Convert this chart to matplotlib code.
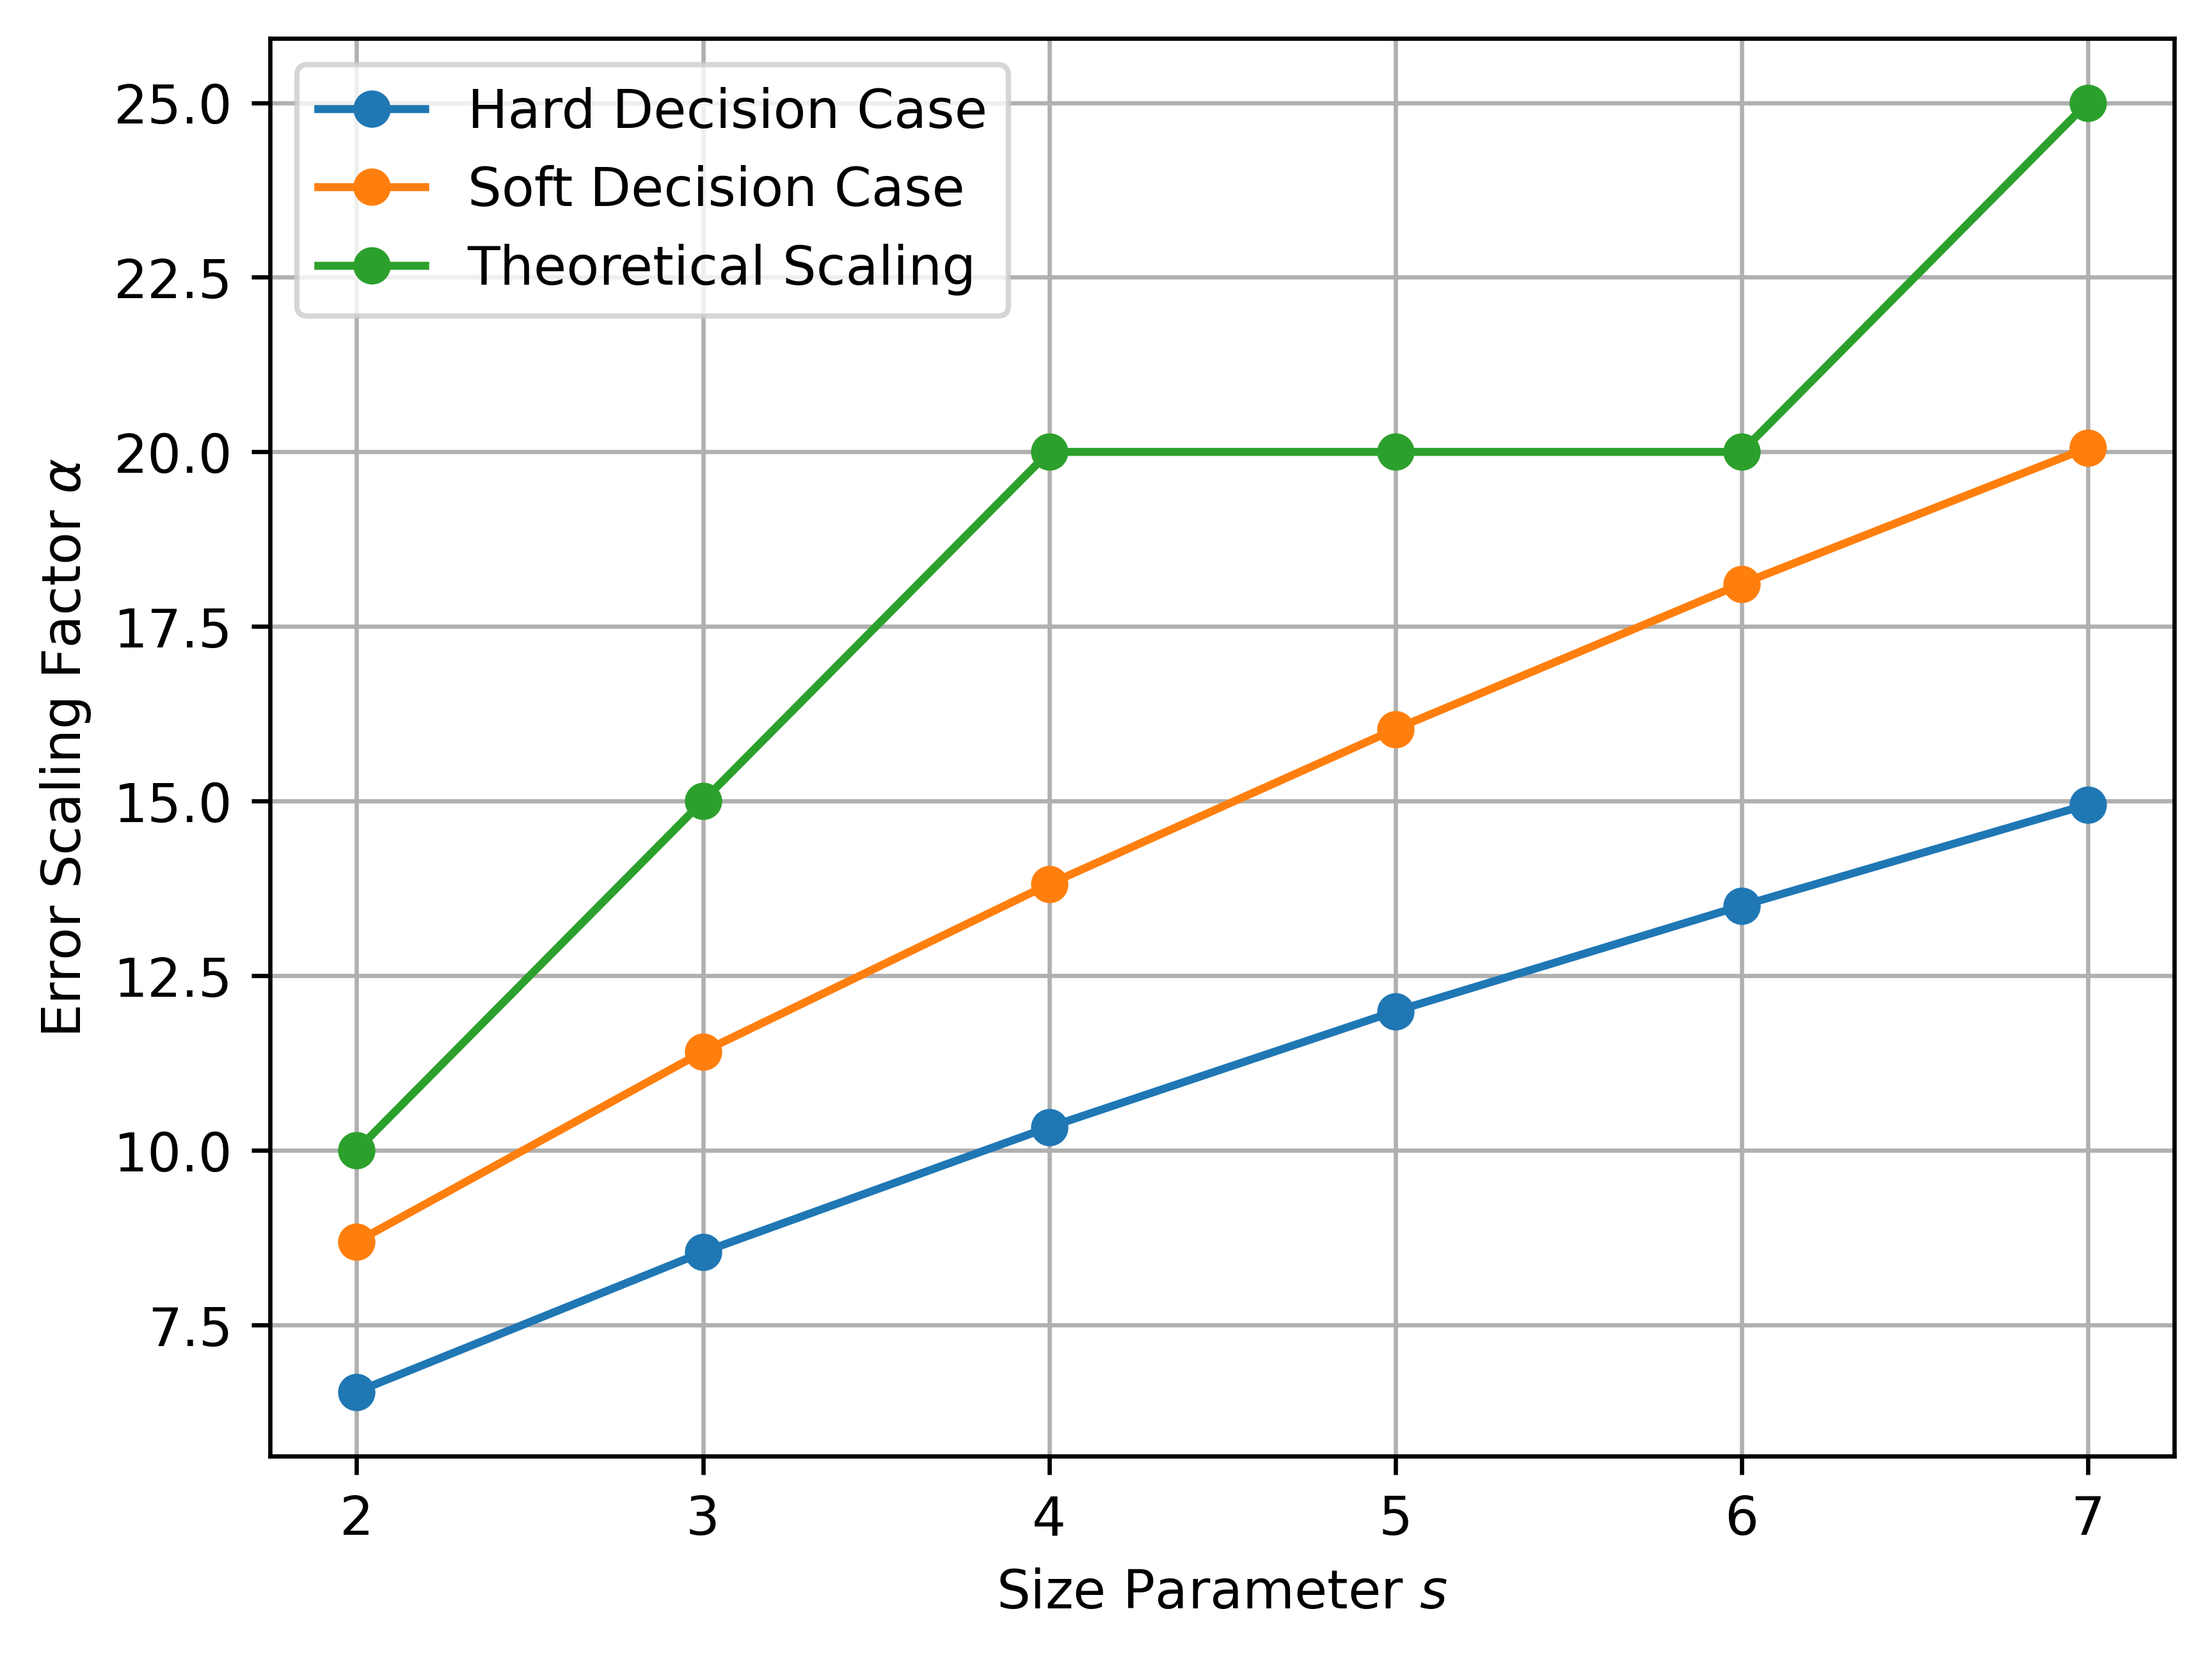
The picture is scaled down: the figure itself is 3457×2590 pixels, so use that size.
import numpy as np
import matplotlib
matplotlib.use("Agg")
from matplotlib import pyplot as plt

s = [2, 3, 4, 5, 6, 7]
hard = [6.54, 8.54, 10.33, 11.99, 13.50, 14.95]
soft = [8.69, 11.41, 13.81, 16.03, 18.11, 20.06]
theory = [10, 15, 20, 20, 20, 25]

fig = plt.figure(figsize=(5.763, 4.318), dpi=600)
ax = fig.add_subplot(111)
ax.plot(s, hard, marker="o", label="Hard Decision Case")
ax.plot(s, soft, marker="o", label="Soft Decision Case")
ax.plot(s, theory, marker="o", label="Theoretical Scaling")
ax.set_xlabel("Size Parameter $s$")
ax.set_ylabel(r"Error Scaling Factor $\alpha$")
ax.grid(True)
ax.legend()
fig.subplots_adjust(left=0.1221, right=0.9827, top=0.9766, bottom=0.1211)
fig.savefig("out.png", dpi=600)
